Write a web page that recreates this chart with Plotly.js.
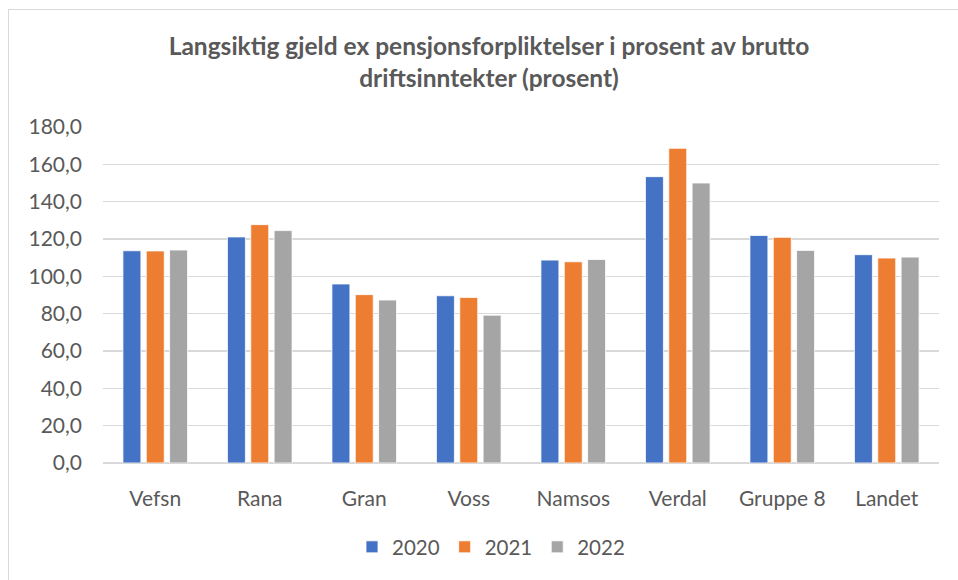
<!DOCTYPE html>
<html>
<head>
<meta charset="utf-8">
<script src="https://cdn.plot.ly/plotly-3.0.1.min.js"></script>
<style>
html,body{margin:0;padding:0;background:#fff;}
#wrap{position:relative;width:958px;height:580px;overflow:hidden;}
#chart{width:958px;height:580px;}
#frame{position:absolute;left:8px;top:9px;width:980px;height:600px;border:1px solid #d9d9d9;box-sizing:border-box;pointer-events:none;}
</style>
</head>
<body>
<div id="wrap"><div id="chart"></div><div id="frame"></div></div>
<script>
const categories = ["Vefsn","Rana","Gran","Voss","Namsos","Verdal","Gruppe 8","Landet"];
const seriesNames = ["2020","2021","2022"];
const values2020 = [113.7,121.1,95.9,89.6,108.7,153.4,121.9,111.6];
const values2021 = [113.6,127.7,90.2,88.7,107.8,168.6,120.9,109.8];
const values2022 = [114.1,124.5,87.3,79.2,109.0,150.0,113.9,110.3];
const colors = ["#4472C4","#ED7D31","#A5A5A5"];
const yTicks = [0,20,40,60,80,100,120,140,160,180];

const allValues = [values2020, values2021, values2022];
const FONT = "Lato, 'Noto Sans', sans-serif";
const txt = "#595959";

const data = allValues.map((v,i)=>({
  type:"bar", name:seriesNames[i], x:categories, y:v,
  marker:{color:colors[i], line:{color:"#ffffff", width:0.8}},
  hoverinfo:"x+y+name"
}));

const layout = {
  width:958, height:580,
  paper_bgcolor:"rgba(0,0,0,0)", plot_bgcolor:"#ffffff",
  margin:{l:103, r:19, t:127, b:117},
  separators:",.",
  font:{family:FONT, color:txt, size:21},
  title:{
    text:"<b>Langsiktig gjeld ex pensjonsforpliktelser i prosent av brutto<br>driftsinntekter (prosent)</b>",
    font:{family:FONT, size:24.5, color:txt},
    x:489/958, xref:"container", xanchor:"center",
    y:1-55/580, yref:"container", yanchor:"middle"
  },
  barmode:"group", bargap:0.33, bargroupgap:0.23,
  xaxis:{
    type:"category", showgrid:false, zeroline:false, showline:false,
    ticks:"", tickfont:{family:FONT, size:21, color:txt},
    ticklabelstandoff:21
  },
  yaxis:{
    range:[0,180], tickvals:yTicks, tickformat:".1f",
    showgrid:true, gridcolor:"#d9d9d9", gridwidth:1.3,
    zeroline:true, zerolinecolor:"#d9d9d9", zerolinewidth:1.3,
    showline:false, ticks:"", tickfont:{family:FONT, size:21, color:txt},
    ticklabelstandoff:20
  },
  legend:{
    orientation:"h", xref:"container", yref:"container",
    x:491/958, xanchor:"center", y:1-547/580, yanchor:"middle",
    font:{family:FONT, size:20.5, color:txt}, itemwidth:30, traceorder:"normal"
  },
  showlegend:true
};

Plotly.newPlot("chart", data, layout, {displayModeBar:false, staticPlot:true});
</script>
</body>
</html>
